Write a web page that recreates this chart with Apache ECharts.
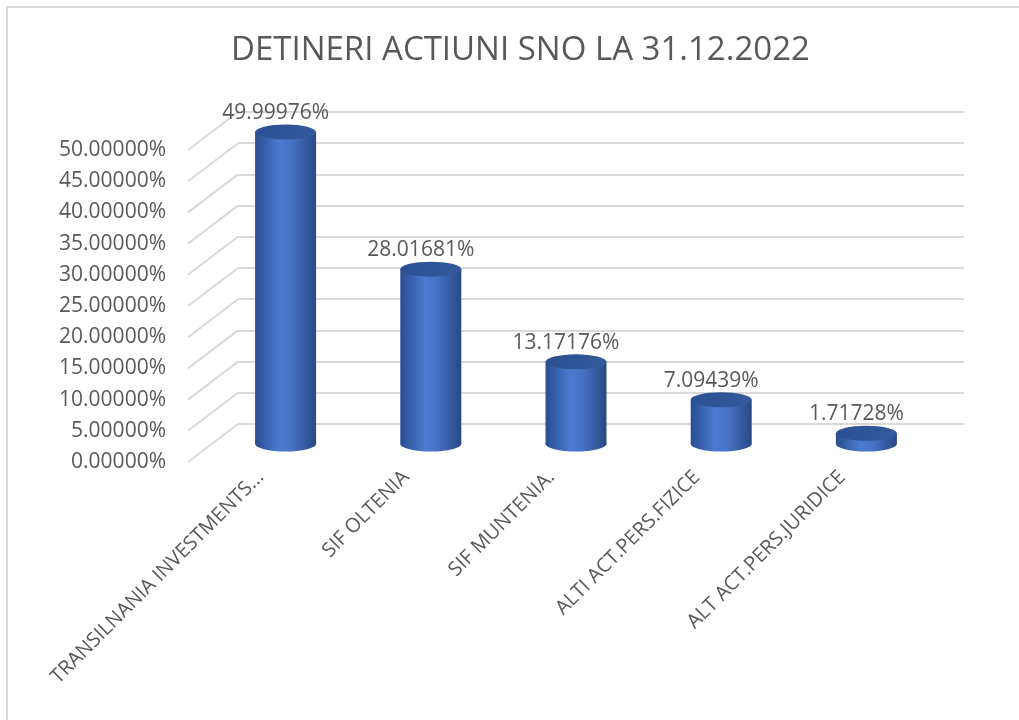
<!DOCTYPE html>
<html>
<head>
<meta charset="utf-8">
<script src="https://cdn.jsdelivr.net/npm/echarts@6/dist/echarts.min.js"></script>
<style>
  html, body { margin: 0; padding: 0; background: #fff; }
  #chart { width: 1019px; height: 720px; }
</style>
</head>
<body>
<div id="chart"></div>
<script>
var titleText = 'DETINERI ACTIUNI SNO LA 31.12.2022';
var categories = ['TRANSILNANIA INVESTMENTS...', 'SIF OLTENIA', 'SIF MUNTENIA.', 'ALTI ACT.PERS.FIZICE', 'ALT ACT.PERS.JURIDICE'];
var shares = [49.99976, 28.01681, 13.17176, 7.09439, 1.71728];
var yMin = 0, yMax = 50, yStep = 5;

var font = "'Open Sans', 'Noto Sans', sans-serif";
var textColor = '#595959';
var gridColor = '#d9d9d9';

// 3 planes: front (labels), middle (bars), back wall (gridlines)
var front = { left: 188, top: 150, width: 727, height: 312 };
var back = { left: 238, top: 112, width: 726, height: 312 };
var mid = { left: 213, top: 132, width: 726, height: 312 };

var myChart = echarts.init(document.getElementById('chart'));

var bodyColor = new echarts.graphic.LinearGradient(0, 0, 1, 0, [
  {offset: 0, color: '#2a4d8f'},
  {offset: 0.4, color: '#4a7bd2'},
  {offset: 0.6, color: '#4672c6'},
  {offset: 1, color: '#2a4882'}
]);
var topColor = new echarts.graphic.LinearGradient(0, 0, 1, 0, [
  {offset: 0, color: '#2c5192'},
  {offset: 1, color: '#34599c'}
]);

function valueAxis(idx, showLabel, showSplit) {
  return {
    type: 'value', gridIndex: idx, min: yMin, max: yMax, interval: yStep,
    axisLine: {show: false}, axisTick: {show: false},
    axisLabel: {
      show: showLabel, color: textColor, fontSize: 21, fontFamily: font, margin: 22,
      formatter: function (v) { return v.toFixed(5) + '%'; }
    },
    splitLine: {show: showSplit, lineStyle: {color: gridColor, width: 2}}
  };
}

var option = {
  backgroundColor: '#fff',
  animation: false,
  title: {
    text: titleText, left: 226, top: 29,
    textStyle: {color: textColor, fontSize: 33, fontWeight: 'normal', fontFamily: font}
  },
  graphic: [{
    type: 'rect', silent: true,
    shape: {x: 7, y: 7, width: 1200, height: 900},
    style: {fill: null, stroke: gridColor, lineWidth: 2}
  }],
  grid: [
    {left: front.left, top: front.top, width: front.width, height: front.height},
    {left: back.left, top: back.top, width: back.width, height: back.height},
    {left: mid.left, top: mid.top, width: mid.width, height: mid.height}
  ],
  xAxis: [
    {
      type: 'category', gridIndex: 0, data: categories,
      axisLine: {show: false}, axisTick: {show: false},
      axisLabel: {
        interval: 0, rotate: 45, margin: 12, color: textColor,
        fontSize: 20, fontFamily: font
      }
    },
    {type: 'category', gridIndex: 1, data: categories, show: false},
    {type: 'category', gridIndex: 2, data: categories, show: false}
  ],
  yAxis: [
    valueAxis(0, true, false),
    valueAxis(1, false, true),
    valueAxis(2, false, false)
  ],
  series: [
    {
      // side-wall diagonals from front ticks to back wall
      type: 'custom', xAxisIndex: 0, yAxisIndex: 0, silent: true,
      data: (function () {
        var d = [];
        for (var v = yMin; v <= yMax; v += yStep) d.push([0, v]);
        return d;
      })(),
      renderItem: function (params, api) {
        var y = api.coord([0, api.value(1)])[1];
        var x = params.coordSys.x;
        return {
          type: 'line',
          shape: {x1: x, y1: y, x2: x + (back.left - front.left), y2: y + (back.top - front.top)},
          style: {stroke: gridColor, lineWidth: 2}
        };
      }
    },
    {
      type: 'bar', xAxisIndex: 2, yAxisIndex: 2, barWidth: 61,
      itemStyle: {color: bodyColor},
      data: shares, z: 3
    },
    {
      type: 'pictorialBar', xAxisIndex: 2, yAxisIndex: 2,
      symbol: 'circle', symbolSize: [61, 15], symbolPosition: 'start',
      symbolOffset: [0, '50%'],
      itemStyle: {color: bodyColor},
      data: shares, z: 2
    },
    {
      type: 'pictorialBar', xAxisIndex: 2, yAxisIndex: 2,
      symbol: 'circle', symbolSize: [61, 15], symbolPosition: 'end',
      symbolOffset: [0, '-50%'],
      itemStyle: {color: topColor},
      label: {
        show: true, position: 'top', distance: 1, offset: [-10, 0],
        color: textColor, fontSize: 21, fontFamily: font,
        formatter: function (p) { return p.value.toFixed(5) + '%'; }
      },
      data: shares, z: 4
    }
  ]
};

myChart.setOption(option);
window.addEventListener('resize', function () { myChart.resize(); });
</script>
</body>
</html>
